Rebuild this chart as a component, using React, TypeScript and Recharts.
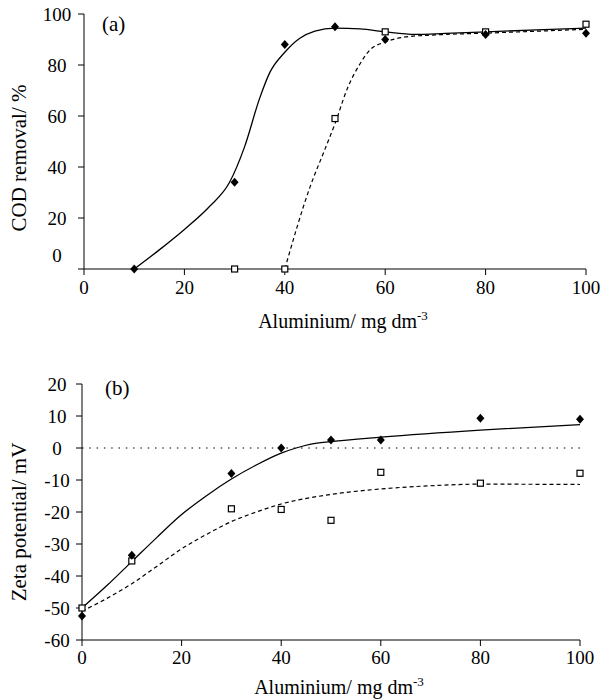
// App.tsx - COD removal and zeta potential vs aluminium dose
import React from 'react';
import {
  ComposedChart,
  Scatter,
  Line,
  XAxis,
  YAxis,
  ReferenceLine,
  Label,
} from 'recharts';

// (a) COD removal / %
const codFilled = [
  { x: 10, y: 0 },
  { x: 30, y: 34 },
  { x: 40, y: 88 },
  { x: 50, y: 95 },
  { x: 60, y: 90 },
  { x: 80, y: 92 },
  { x: 100, y: 92.5 },
];
const codOpen = [
  { x: 30, y: 0 },
  { x: 40, y: 0 },
  { x: 50, y: 59 },
  { x: 60, y: 93 },
  { x: 80, y: 93 },
  { x: 100, y: 96 },
];
// fitted curves
const codFitSolid = [
  { x: 10, y: 0 },
  { x: 15, y: 7.5 },
  { x: 20, y: 15.5 },
  { x: 25, y: 24.5 },
  { x: 29, y: 34 },
  { x: 32, y: 48 },
  { x: 35, y: 67 },
  { x: 37, y: 77 },
  { x: 40, y: 85 },
  { x: 43, y: 90.5 },
  { x: 46, y: 93.3 },
  { x: 50, y: 94.5 },
  { x: 55, y: 94.2 },
  { x: 60, y: 93 },
  { x: 66, y: 92 },
  { x: 72, y: 92.4 },
  { x: 80, y: 93 },
  { x: 100, y: 94.5 },
];
const codFitDashed = [
  { x: 40, y: 0 },
  { x: 45, y: 32 },
  { x: 48, y: 47 },
  { x: 50, y: 57 },
  { x: 52.5, y: 71 },
  { x: 55, y: 80.5 },
  { x: 57, y: 86 },
  { x: 60, y: 89 },
  { x: 64, y: 91 },
  { x: 70, y: 91.8 },
  { x: 80, y: 92.5 },
  { x: 100, y: 94 },
];

// (b) zeta potential / mV
const zetaFilled = [
  { x: 0, y: -52.5 },
  { x: 10, y: -33.5 },
  { x: 30, y: -8 },
  { x: 40, y: 0 },
  { x: 50, y: 2.5 },
  { x: 60, y: 2.5 },
  { x: 80, y: 9.3 },
  { x: 100, y: 9 },
];
const zetaOpen = [
  { x: 0, y: -50 },
  { x: 10, y: -35.3 },
  { x: 30, y: -19 },
  { x: 40, y: -19.2 },
  { x: 50, y: -22.6 },
  { x: 60, y: -7.6 },
  { x: 80, y: -11 },
  { x: 100, y: -7.9 },
];
const zetaFitSolid = [
  { x: 0, y: -50 },
  { x: 5, y: -43 },
  { x: 10, y: -35.5 },
  { x: 15, y: -28 },
  { x: 20, y: -20.8 },
  { x: 25, y: -14.9 },
  { x: 30, y: -9.7 },
  { x: 35, y: -5.3 },
  { x: 40, y: -1.6 },
  { x: 43, y: 0 },
  { x: 46, y: 1.2 },
  { x: 50, y: 2 },
  { x: 60, y: 3.4 },
  { x: 80, y: 5.6 },
  { x: 100, y: 7.3 },
];
const zetaFitDashed = [
  { x: 0, y: -51 },
  { x: 5, y: -47 },
  { x: 10, y: -42.4 },
  { x: 15, y: -37 },
  { x: 20, y: -31.5 },
  { x: 25, y: -27 },
  { x: 30, y: -23 },
  { x: 35, y: -20 },
  { x: 40, y: -17.5 },
  { x: 50, y: -14.5 },
  { x: 60, y: -12.8 },
  { x: 70, y: -11.8 },
  { x: 80, y: -11.3 },
  { x: 100, y: -11.4 },
];

const xTicks = [0, 20, 40, 60, 80, 100];
const codTicks = [0, 20, 40, 60, 80, 100];
const zetaTicks = [-60, -50, -40, -30, -20, -10, 0, 10, 20];

const FONT = '"Liberation Serif", "Times New Roman", serif';
const FS = 19;

const Diamond = (props: any) => {
  const { cx, cy } = props;
  if (cx == null || cy == null) return null;
  return <path d={`M${cx},${cy - 4.5}L${cx + 4},${cy}L${cx},${cy + 4.5}L${cx - 4},${cy}Z`} fill="#000" />;
};

const Square = (props: any) => {
  const { cx, cy } = props;
  if (cx == null || cy == null) return null;
  return <rect x={cx - 3} y={cy - 3} width={6} height={6} fill="#fff" stroke="#000" strokeWidth={1.2} />;
};

// y tick labels are centred; the "0" on the COD axis sits above its tick in the original
const YTick = (props: any) => {
  const { x, y, payload, lift } = props;
  const shift = lift && payload.value === 0 ? -14 : 0;
  return (
    <text x={x} y={y + shift} dy="0.36em" textAnchor="middle" fontSize={FS} fontFamily={FONT} fill="#000">
      {payload.value}
    </text>
  );
};

const XTitle = ({ viewBox, dy }: any) => {
  const cx = viewBox.x + viewBox.width / 2 + 8;
  return (
    <text x={cx} y={viewBox.y + dy} textAnchor="middle" fontSize={20} fontFamily={FONT} fill="#000">
      Aluminium/ mg dm
      <tspan dy={-8} fontSize={13}>-3</tspan>
    </text>
  );
};

const YTitle = ({ text, cx, cy }: any) => (
  <text
    x={cx}
    y={cy}
    transform={`rotate(-90, ${cx}, ${cy})`}
    textAnchor="middle"
    dominantBaseline="central"
    fontSize={21}
    fontFamily={FONT}
    fill="#000"
  >
    {text}
  </text>
);

const axisStyle = { fontSize: FS, fontFamily: FONT, fill: '#000' };

export default function App() {
  return (
    <div style={{ position: 'absolute', left: 0, top: 0, width: 607, height: 700, background: '#fff' }}>
      <ComposedChart width={607} height={340} margin={{ top: 14, right: 21, bottom: 8, left: 24 }}>
        <XAxis
          type="number"
          dataKey="x"
          domain={[0, 100]}
          ticks={xTicks}
          tickSize={6}
          tickMargin={6}
          height={63}
          stroke="#000"
          tick={axisStyle}
          allowDuplicatedCategory={false}
        >
          <Label content={(p: any) => <XTitle viewBox={p.viewBox} dy={59} />} />
        </XAxis>
        <YAxis
          type="number"
          dataKey="y"
          domain={[0, 100]}
          ticks={codTicks}
          tickSize={6}
          tickMargin={21}
          width={60}
          stroke="#000"
          tick={<YTick lift />}
        >
          <Label content={() => <YTitle text="COD removal/ %" cx={19} cy={158} />} />
        </YAxis>
        <Line data={codFitSolid} dataKey="y" type="monotone" stroke="#000" strokeWidth={1.3} dot={false} isAnimationActive={false} />
        <Line data={codFitDashed} dataKey="y" type="monotone" stroke="#000" strokeWidth={1.2} strokeDasharray="4 3" dot={false} isAnimationActive={false} />
        <Scatter data={codOpen} dataKey="y" shape={<Square />} isAnimationActive={false} />
        <Scatter data={codFilled} dataKey="y" shape={<Diamond />} isAnimationActive={false} />
        <text x={102} y={23} dy="0.36em" fontSize={21} fontFamily={FONT} fill="#000">(a)</text>
      </ComposedChart>

      <ComposedChart width={607} height={360} margin={{ top: 44, right: 27, bottom: 2, left: 22 }}>
        <XAxis
          type="number"
          dataKey="x"
          domain={[0, 100]}
          ticks={xTicks}
          tickSize={6}
          tickMargin={5}
          height={58}
          stroke="#000"
          tick={axisStyle}
          allowDuplicatedCategory={false}
        >
          <Label content={(p: any) => <XTitle viewBox={p.viewBox} dy={54} />} />
        </XAxis>
        <YAxis
          type="number"
          dataKey="y"
          domain={[-60, 20]}
          ticks={zetaTicks}
          tickSize={6}
          tickMargin={19}
          width={60}
          stroke="#000"
          tick={<YTick />}
        >
          <Label content={() => <YTitle text="Zeta potential/ mV" cx={19} cy={182} />} />
        </YAxis>
        <ReferenceLine y={0} stroke="#000" strokeWidth={1.2} strokeDasharray="1.5 5.8" />
        <Line data={zetaFitSolid} dataKey="y" type="monotone" stroke="#000" strokeWidth={1.3} dot={false} isAnimationActive={false} />
        <Line data={zetaFitDashed} dataKey="y" type="monotone" stroke="#000" strokeWidth={1.2} strokeDasharray="4 3" dot={false} isAnimationActive={false} />
        <Scatter data={zetaOpen} dataKey="y" shape={<Square />} isAnimationActive={false} />
        <Scatter data={zetaFilled} dataKey="y" shape={<Diamond />} isAnimationActive={false} />
        <text x={105} y={47} dy="0.36em" fontSize={21} fontFamily={FONT} fill="#000">(b)</text>
      </ComposedChart>
    </div>
  );
}
